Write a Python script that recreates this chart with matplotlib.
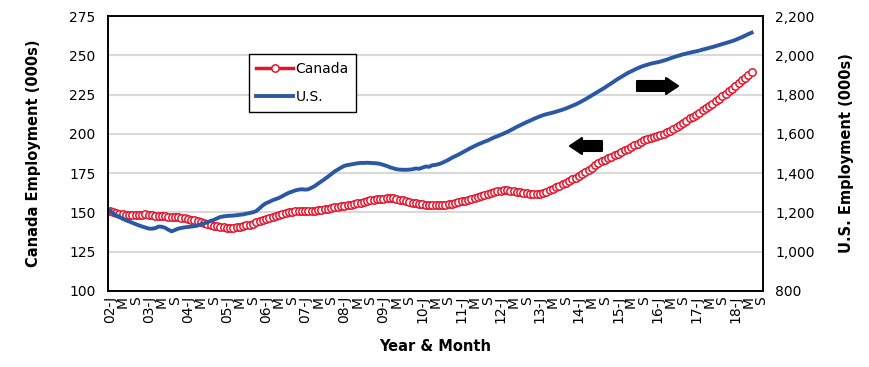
import matplotlib
matplotlib.use("Agg")
import matplotlib.pyplot as plt
from matplotlib.patches import Polygon
from matplotlib.transforms import IdentityTransform
from matplotlib.ticker import FuncFormatter

plt.rcParams['font.family'] = ['DejaVu Sans']

# monthly, Jan 2002 .. Jun 2018 (000s)
canada = [
    151.0, 150.3, 149.7, 149.3, 148.9, 148.5, 148.2, 148.1, 148.2, 148.4, 148.6, 148.7,
    148.5, 148.2, 147.9, 147.8, 147.7, 147.6, 147.4, 147.2, 147.0, 146.8, 146.5, 146.2,
    145.9, 145.5, 145.0, 144.4, 143.8, 143.2, 142.6, 142.0, 141.5, 141.1, 140.8, 140.5,
    140.3, 140.2, 140.3, 140.5, 140.8, 141.2, 141.7, 142.3, 142.9, 143.6, 144.3, 145.0,
    145.7, 146.5, 147.2, 148.0, 148.6, 149.2, 149.7, 150.1, 150.4, 150.6, 150.8, 150.9,
    151.0, 151.0, 151.1, 151.2, 151.4, 151.7, 152.0, 152.4, 152.8, 153.2, 153.6, 154.0,
    154.3, 154.6, 155.0, 155.4, 155.8, 156.3, 156.8, 157.2, 157.6, 158.0, 158.3, 158.6,
    158.8, 159.0, 159.0, 158.9, 158.6, 158.2, 157.8, 157.3, 156.8, 156.3, 155.9, 155.5,
    155.2, 155.0, 154.8, 154.7, 154.6, 154.6, 154.7, 154.9, 155.2, 155.6, 156.0, 156.5,
    157.0, 157.5, 158.0, 158.6, 159.3, 160.0, 160.7, 161.3, 161.9, 162.5, 163.0, 163.5,
    163.8, 164.0, 164.0, 163.9, 163.6, 163.3, 163.0, 162.6, 162.2, 161.9, 161.7, 161.7,
    162.0, 162.5, 163.2, 164.0, 165.0, 166.0, 167.0, 168.0, 169.0, 170.0, 171.0, 172.0,
    173.0, 174.2, 175.5, 177.0, 178.5, 180.0, 181.3, 182.5, 183.5, 184.5, 185.5, 186.5,
    187.5, 188.5, 189.5, 190.5, 191.5, 192.6, 193.7, 194.8, 195.8, 196.6, 197.3, 197.9,
    198.5, 199.2, 200.0, 200.9, 201.9, 203.0, 204.3, 205.7, 207.1, 208.5, 209.8, 211.0,
    212.2, 213.5, 214.9, 216.3, 217.8, 219.3, 220.8, 222.3, 223.9, 225.5, 227.1, 228.8,
    230.5, 232.2, 234.0, 235.8, 237.6, 239.3,
]

us = [
    1210, 1196, 1185, 1176, 1168, 1160, 1154, 1147, 1140, 1134, 1128, 1123,
    1118, 1117, 1120, 1128, 1127, 1122, 1112, 1104, 1110, 1117, 1121, 1124,
    1126, 1128, 1130, 1133, 1140, 1144, 1150, 1157, 1162, 1170, 1177, 1180,
    1182, 1183, 1184, 1186, 1188, 1190, 1194, 1197, 1201, 1207, 1221, 1236,
    1247, 1254, 1262, 1268, 1274, 1283, 1292, 1300, 1306, 1312, 1316, 1318,
    1316, 1318, 1326, 1335, 1347, 1358, 1370, 1382, 1395, 1408, 1418, 1428,
    1437, 1441, 1444, 1447, 1450, 1452, 1452, 1453, 1452, 1451, 1450, 1447,
    1442, 1437, 1430, 1425, 1420, 1418, 1417, 1417, 1418, 1420, 1424, 1422,
    1428, 1434, 1432, 1440, 1442, 1446, 1452, 1460, 1468, 1478, 1486, 1494,
    1503, 1512, 1521, 1530, 1538, 1546, 1553, 1560, 1566, 1574, 1582, 1588,
    1595, 1602, 1610, 1618, 1627, 1636, 1644, 1652, 1660, 1667, 1675, 1682,
    1689, 1695, 1700, 1704, 1708, 1713, 1718, 1723, 1729, 1736, 1743, 1750,
    1758, 1767, 1776, 1786, 1796, 1806, 1816, 1826, 1836, 1847, 1858, 1869,
    1880, 1890, 1900, 1910, 1918, 1926, 1934, 1941, 1947, 1952, 1957, 1961,
    1964, 1968, 1973, 1978, 1984, 1990, 1995, 2000, 2005, 2009, 2013, 2017,
    2020, 2024, 2029, 2033, 2038, 2042, 2047, 2052, 2057, 2062, 2067, 2072,
    2078, 2085, 2092, 2100, 2108, 2115,
]

years = list(range(2002, 2019))
months = ['J', 'M', 'S']
tick_labels = []
for y in years:
    for m in months:
        tick_labels.append(f"{y % 100:02d}-J" if m == 'J' else m)

x = list(range(len(canada)))
tick_pos = list(range(0, 4 * len(tick_labels), 4))

red = '#E3142B'
blue = '#2B58A6'

fig = plt.figure(figsize=(8.7, 3.67), dpi=100)
ax = fig.add_axes([108 / 870, 1 - 291 / 367, 655 / 870, 275 / 367])
ax2 = ax.twinx()

l1, = ax.plot(x, canada, color=red, lw=1.5, marker='o', ms=5.3,
              mfc='white', mec=red, mew=1.1, label='Canada')
l2, = ax2.plot(x, us, color=blue, lw=2.8, label='U.S.')

ax.set_xlim(-0.5, tick_pos[-1] + 0.5)
ax.set_ylim(100, 275)
ax.set_yticks(range(100, 276, 25))
ax2.set_ylim(800, 2200)
ax2.set_yticks(range(800, 2201, 200))
ax2.yaxis.set_major_formatter(FuncFormatter(lambda v, p: f"{int(v):,}"))

ax.set_xticks(tick_pos)
ax.set_xticklabels(tick_labels, rotation=90, fontsize=10)
ax.tick_params(axis='x', length=0, pad=3.5)
ax.tick_params(axis='y', length=0, labelsize=10, pad=9)
ax2.tick_params(axis='y', length=0, labelsize=10, pad=9)

ax.grid(axis='y', color='#D9D9D9', lw=1.5)
ax.set_axisbelow(True)
for a in (ax, ax2):
    for s in a.spines.values():
        s.set_color('black')
        s.set_linewidth(1.2)

ax.set_ylabel('Canada Employment (000s)', fontsize=10.5, fontweight='bold', labelpad=20)
ax2.set_ylabel('U.S. Employment (000s)', fontsize=10.5, fontweight='bold', labelpad=17)
ax.set_xlabel('Year & Month', fontsize=10.5, fontweight='bold', labelpad=11)

leg = ax2.legend(handles=[l1, l2], loc='upper left', bbox_to_anchor=(0.215, 0.862),
                 borderaxespad=0, fancybox=False, framealpha=1, edgecolor='black',
                 fontsize=10, handlelength=2.6, labelspacing=1.05, handletextpad=0.2,
                 borderpad=0.55)
leg.get_frame().set_linewidth(1.0)
leg.get_lines()[0].set_linewidth(2.5)

# direction arrows (figure pixels, origin bottom-left)
H = 367
def block_arrow(x0, x1, yc, right=True):
    bh, hh, hl = 5, 8, 12
    if right:
        pts = [(x0, yc - bh), (x1 - hl, yc - bh), (x1 - hl, yc - hh), (x1, yc),
               (x1 - hl, yc + hh), (x1 - hl, yc + bh), (x0, yc + bh)]
    else:
        pts = [(x1, yc - bh), (x0 + hl, yc - bh), (x0 + hl, yc - hh), (x0, yc),
               (x0 + hl, yc + hh), (x0 + hl, yc + bh), (x1, yc + bh)]
    fig.add_artist(Polygon(pts, closed=True, facecolor='black', edgecolor='black',
                           lw=1.5, joinstyle='round', transform=IdentityTransform()))

block_arrow(637, 678, H - 86, right=True)
block_arrow(570, 602, H - 146, right=False)

fig.savefig('out.png', dpi=100)
